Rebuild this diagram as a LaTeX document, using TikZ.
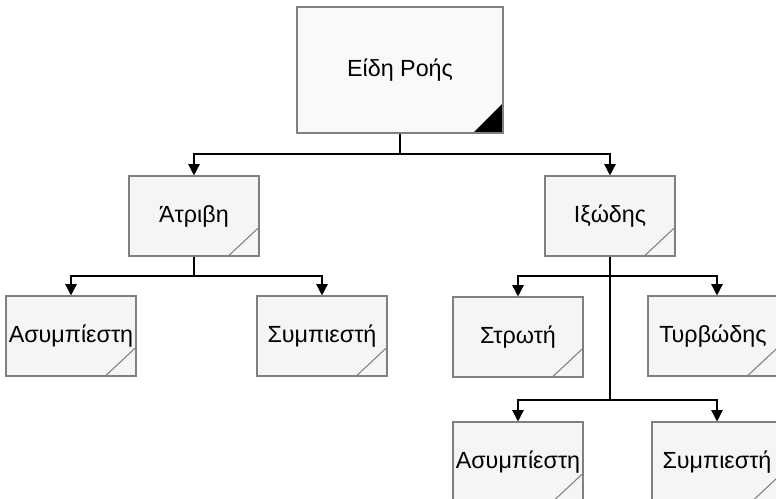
\documentclass[tikz,border=0pt]{standalone}
\usepackage{fontspec}
\setmainfont{Liberation Sans}
\usetikzlibrary{arrows.meta,calc}

\definecolor{boxline}{HTML}{808080}
\definecolor{boxfill}{HTML}{F5F5F5}

\tikzset{
  box/.style={draw=boxline, line width=0.8pt, fill=boxfill, inner sep=0pt,
    minimum width=97.5pt, minimum height=60pt, font=\fontsize{17.5}{20}\selectfont,
    path picture={\draw[boxline, line width=0.8pt]
      ([xshift=-23pt]path picture bounding box.south east) --
      ([yshift=21.5pt]path picture bounding box.south east);}},
  rootbox/.style={draw=boxline, line width=0.8pt, fill=boxfill!60!white, inner sep=0pt,
    minimum width=154.5pt, minimum height=94.5pt, font=\fontsize{17.5}{20}\selectfont,
    path picture={\fill[black]
      ([xshift=-22.5pt]path picture bounding box.south east) --
      (path picture bounding box.south east) --
      ([yshift=22.5pt]path picture bounding box.south east) -- cycle;}},
  wire/.style={draw=black, line width=1.1pt},
  arr/.style={wire, -{Triangle[length=8.5pt,width=8.5pt]}},
}

\begin{document}
\begin{tikzpicture}[x=0.75pt, y=-0.75pt]
  \useasboundingbox (0,0) rectangle (776,499);
  \fill[white] (0,0) rectangle (776,499);

  % levels of the horizontal branch lines
  \coordinate (lvl1) at (0,154);
  \coordinate (lvl2) at (0,276);
  \coordinate (lvl3) at (0,400);

  % boxes
  \node[rootbox] (root) at (400,70) {Είδη Ροής};
  \node[box] (atr)  at (194,216) {Άτριβη};
  \node[box] (ixo)  at (610,216) {Ιξώδης};
  \node[box] (asy1) at (71,336)  {Ασυμπίεστη};
  \node[box] (sym1) at (322,336) {Συμπιεστή};
  \node[box] (stro) at (518,337) {Στρωτή};
  \node[box] (tyr)  at (713,336) {Τυρβώδης};
  \node[box] (asy2) at (518,462) {Ασυμπίεστη};
  \node[box] (sym2) at (717,462) {Συμπιεστή};

  % first level
  \coordinate (j1) at (root.south |- lvl1);
  \draw[wire] (root.south) -- (j1);
  \draw[arr] (j1) -| (atr.north);
  \draw[arr] (j1) -| (ixo.north);

  % under the frictionless branch
  \coordinate (j2) at (atr.south |- lvl2);
  \draw[wire] (atr.south) -- (j2);
  \draw[arr] (j2) -| (asy1.north);
  \draw[arr] (j2) -| (sym1.north);

  % under the viscous branch
  \coordinate (j3) at (ixo.south |- lvl2);
  \coordinate (j4) at (ixo.south |- lvl3);
  \draw[wire] (ixo.south) -- (j4);
  \draw[arr] (j3) -| (stro.north);
  \draw[arr] (j3) -| ([xshift=3pt]tyr.north);
  \draw[arr] (j4) -| (asy2.north);
  \draw[arr] (j4) -| (sym2.north);
\end{tikzpicture}
\end{document}
